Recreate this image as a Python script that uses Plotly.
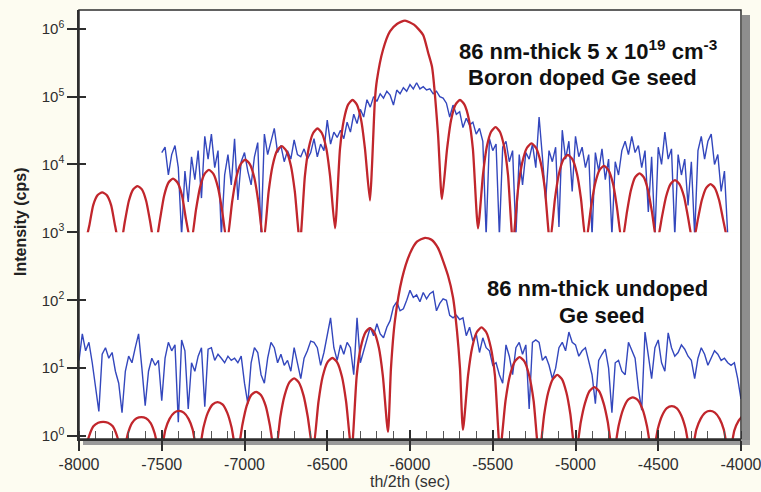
import numpy as np
import plotly.graph_objects as go

# ---------------- data ----------------
x_tick_vals = [-8000, -7500, -7000, -6500, -6000, -5500, -5000, -4500, -4000]
x_tick_text = ["-8000", "-7500", "-7000", "-6500", "-6000", "-5500", "-5000", "-4500", "-4000"]
y_tick_vals_low = [1, 10, 100]
y_tick_text_low = ["10<sup>0</sup>", "10<sup>1</sup>", "10<sup>2</sup>"]
y_tick_vals_high = [1e3, 1e4, 1e5, 1e6]
y_tick_text_high = ["10<sup>3</sup>", "10<sup>4</sup>", "10<sup>5</sup>", "10<sup>6</sup>"]

scan_step = 20  # sec between measured points

# 86 nm-thick 5e19 cm-3 boron doped Ge seed: measured (blue), scan starts at -7500
doped_meas_start = -7500
doped_meas = [
    1.5e4, 1.8e4, 7e3, 1.4e4, 1.9e4, 9e3, 9e2, 8e3, 2.8e3, 1.3e4, 6e3, 1.6e4,
    3.2e3, 2.6e4, 1.2e4, 2.8e4, 9e3, 1.6e4, 9e2, 7e3, 1.4e4, 5e3, 2.4e4,
    3e3, 1.1e4, 1.5e4, 8e3, 5e3, 1.3e4, 2.1e4, 9e2, 2.8e4,
    1.4e4, 2.2e4, 3.4e4, 1.5e4, 1.9e4, 1.1e4, 1.6e4, 1.2e4, 2.3e4, 1.4e4,
    1.3e4, 1.7e4, 1.2e4, 1.5e4, 2.4e4, 1.3e4, 2.0e4, 1.6e4, 4.5e4, 2.0e4, 3.0e4,
    2.5e4, 3.2e4, 2.4e4, 4.2e4, 3.0e4, 5.5e4, 4.0e4, 6.5e4, 5.0e4, 9.0e4,
    7.0e4, 1.0e5, 8.5e4, 1.1e5, 9.5e4, 1.2e5, 1.05e5, 7.5e4, 1.25e5, 1.1e5, 1.35e5,
    1.2e5, 1.5e5, 1.3e5, 1.6e5, 1.3e5, 1.4e5, 1.25e5, 1.3e5, 1.1e5, 1.2e5, 1.0e5, 9.5e4,
    8.0e4, 5.0e4, 7.5e4, 5.5e4, 6.0e4, 3.5e4, 4.8e4, 3.8e4, 4.2e4, 2.8e4, 3.4e4,
    2.2e4, 9e2, 2.4e4, 1.6e4, 2.0e4, 9e2,
    1.8e4, 2.2e4, 1.1e4, 1.6e4, 9e2, 1.4e4, 5e3, 1.5e4, 1.2e4, 2.0e4, 9e3, 5.0e4,
    1.3e4, 3e3, 1.6e4, 1.1e4, 1.8e4, 1.2e3, 3.2e4, 1.2e4, 2.2e4, 4e3, 2.6e4, 1.3e4,
    1.8e4, 9e3, 1.4e4, 9e2, 1.5e4, 8e3, 1.7e4, 6e3, 1.2e4, 9e2, 1.1e4, 7e3,
    1.6e4, 2.2e4, 1.4e4, 2.6e4, 1.5e4, 1.9e4, 9e3, 1.6e4, 2e3, 1.3e4, 9e2, 1.8e4,
    1.0e4, 3.0e4, 1.2e4, 1.7e4, 9e2, 1.4e4, 7e3, 1.2e4, 2.5e3, 1.1e4, 9e2, 1.6e4,
    2.6e4, 1.2e4, 2.2e4, 2.8e4, 1.0e4, 1.4e4, 4e3, 8e3, 9e2,
]

# doped: simulated (red)
doped_sim_x = [
    -7968, -7938, -7914, -7887, -7860, -7833, -7806, -7782,
    -7752, -7722, -7699, -7673, -7646, -7620, -7594, -7571,
    -7541, -7510, -7486, -7459, -7432, -7405, -7377, -7354,
    -7323, -7293, -7269, -7242, -7215, -7187, -7160, -7136,
    -7106, -7075, -7051, -7023, -6996, -6968, -6940, -6916,
    -6885, -6854, -6830, -6803, -6775, -6748, -6720, -6696,
    -6665, -6635, -6612, -6585, -6559, -6533, -6506, -6483,
    -6453, -6423, -6400, -6374, -6347, -6321, -6295, -6272,
    -6242, -6230, -6212, -6200, -6163, -6121, -6079, -6030, -5976, -5921, -5891, -5867, -5831,
    -5807, -5776, -5752, -5725, -5698, -5671, -5643, -5620,
    -5589, -5559, -5536, -5510, -5483, -5457, -5431, -5408,
    -5378, -5347, -5322, -5294, -5266, -5238, -5210, -5185,
    -5154, -5124, -5100, -5073, -5046, -5018, -4991, -4967,
    -4937, -4906, -4882, -4855, -4828, -4801, -4773, -4750,
    -4719, -4689, -4666, -4640, -4613, -4587, -4561, -4538,
    -4508, -4477, -4453, -4426, -4399, -4372, -4344, -4321,
    -4290, -4260, -4237, -4211, -4184, -4158, -4132, -4109, -4079,
]
doped_sim_y = [
    600, 1250, 2520, 3540, 3890, 3540, 2520, 1250,
    600, 1480, 2900, 4290, 4790, 4290, 2900, 1480,
    600, 1580, 3440, 5430, 6170, 5430, 3440, 1580,
    700, 2160, 4560, 7220, 8320, 7220, 4560, 2160,
    700, 2780, 6280, 10150, 11750, 10150, 6280, 2780,
    700, 4020, 9700, 16000, 18600, 16000, 9700, 4020,
    700, 6790, 17350, 29100, 33900, 29100, 17350, 6790,
    1150, 17000, 45000, 76200, 89100, 76200, 45000, 17000,
    2950, 9100, 89000, 174000, 490000, 912000, 1175000, 1318000, 1148000, 813000, 450000, 275000, 28800,
    3090, 17000, 45000, 76200, 89100, 76200, 45000, 17000,
    1150, 7100, 18200, 30400, 35500, 30400, 18200, 7100,
    700, 4350, 10600, 17500, 20400, 17500, 10600, 4350,
    700, 3150, 7300, 11900, 13800, 11900, 7300, 3150,
    700, 2380, 5180, 8270, 9550, 8270, 5180, 2380,
    700, 2000, 4100, 6450, 7410, 6450, 4100, 2000,
    700, 1720, 3350, 5150, 5890, 5150, 3350, 1720,
    700, 1580, 2970, 4500, 5130, 4500, 2970, 1580, 700,
]

# 86 nm-thick undoped Ge seed: measured (blue), scan starts at -8000
undoped_meas_start = -8000
undoped_meas = [
    13, 32, 18, 24, 12, 5, 2.3, 16, 20, 14, 17, 9, 6, 2.2, 9, 15, 12, 20, 32, 10,
    2.8, 9, 14, 11, 13, 3.3, 14, 24, 18, 22, 1.6, 26, 18, 2.5, 12, 9, 15, 20, 2.7, 19,
    20, 13, 16, 14, 12, 15, 13, 14, 12, 15, 6, 3, 12, 20, 17, 8, 6, 14, 24, 20,
    12, 16, 11, 13, 9, 20,
    12, 7, 14, 18, 25, 24, 20, 11, 17, 30, 55, 20, 13, 22, 16, 24, 20, 8, 55, 12,
    18, 26, 40, 30, 45, 32, 28, 40, 50, 80, 95, 70, 75, 100, 140, 110, 120, 95, 130, 105,
    125, 135, 70, 90, 105, 100, 60, 55, 60, 52, 55, 30, 40, 25, 32, 17, 28, 20, 18, 11,
    12, 8, 6, 22, 15,
    8, 20, 24, 16, 22, 2.5, 24, 26, 24, 13, 15, 11, 7, 10, 20, 24, 18, 34, 24, 22,
    15, 18, 20, 12, 8, 3, 13, 16, 19, 10, 2.2, 12, 13, 9, 8, 24, 18, 14, 5, 2.4,
    34, 14, 7, 20, 26, 12, 9, 33, 20, 15, 17, 22, 19, 15, 13, 7, 14, 20, 16, 11,
    14, 18, 16, 13, 14, 12, 11, 12, 7, 3.5,
]

# undoped: simulated (red)
undoped_sim_x = [
    -7972, -7939, -7913, -7884, -7854, -7825, -7796, -7770,
    -7737, -7705, -7680, -7652, -7623, -7595, -7567, -7542,
    -7510, -7478, -7453, -7424, -7395, -7367, -7338, -7313,
    -7281, -7248, -7222, -7192, -7163, -7133, -7104, -7078,
    -7045, -7013, -6987, -6959, -6930, -6901, -6872, -6847,
    -6815, -6783, -6758, -6729, -6700, -6672, -6643, -6618,
    -6586, -6553, -6528, -6499, -6469, -6440, -6411, -6386,
    -6353, -6322, -6298, -6270, -6243, -6215, -6188, -6164,
    -6133, -6115, -6091, -6048, -6000, -5958, -5909, -5870, -5831, -5770, -5740, -5716, -5698,
    -5680, -5649, -5624, -5596, -5568, -5540, -5512, -5487,
    -5456, -5423, -5397, -5367, -5338, -5308, -5279, -5253,
    -5220, -5189, -5165, -5137, -5110, -5082, -5055, -5031,
    -5000, -4968, -4943, -4915, -4886, -4858, -4830, -4805,
    -4773, -4740, -4713, -4684, -4654, -4624, -4594, -4568,
    -4535, -4502, -4477, -4448, -4418, -4389, -4360, -4335,
    -4302, -4270, -4244, -4216, -4187, -4158, -4129, -4104,
    -4072, -4040, -4014, -3986,
]
undoped_sim_y = [
    0.5, 1.0, 1.39, 1.57, 1.62, 1.57, 1.39, 1.0,
    0.5, 1.08, 1.55, 1.82, 1.9, 1.82, 1.55, 1.08,
    0.5, 1.24, 1.79, 2.21, 2.34, 2.21, 1.79, 1.24,
    0.5, 1.33, 2.19, 2.92, 3.16, 2.92, 2.19, 1.33,
    0.5, 1.45, 2.77, 4.02, 4.47, 4.02, 2.77, 1.45,
    0.5, 1.94, 3.94, 6.16, 7.08, 6.16, 3.94, 1.94,
    0.6, 3.2, 7.45, 12.2, 14.1, 12.2, 7.45, 3.2,
    0.6, 7.7, 19.9, 33.3, 38.9, 33.3, 19.9, 7.7,
    1.15, 10, 50, 210, 490, 730, 832, 780, 590, 230, 110, 35, 10,
    1.23, 7.9, 20.3, 34.1, 39.8, 34.1, 20.3, 7.9,
    0.6, 3.28, 7.65, 12.5, 14.5, 12.5, 7.65, 3.28,
    0.5, 2.09, 4.37, 6.9, 7.94, 6.9, 4.37, 2.09,
    0.5, 1.61, 3.03, 4.6, 5.25, 4.6, 3.03, 1.61,
    0.5, 1.39, 2.44, 3.39, 3.72, 3.39, 2.44, 1.39,
    0.5, 1.29, 1.99, 2.57, 2.75, 2.57, 1.99, 1.29,
    0.5, 1.24, 1.79, 2.21, 2.34, 2.21, 1.79, 1.24,
    0.5, 1.21, 1.68, 2.03,
]

label_doped = "86 nm-thick 5 x 10<sup>19</sup> cm<sup>-3</sup>"
label_doped_2 = "Boron doped Ge seed"
label_undoped = "86 nm-thick undoped"
label_undoped_2 = "Ge seed"

# ---------------- figure ----------------
BLUE = "#3347bd"
RED = "#c1262c"
INK = "#2e2e2e"
FONT = "Liberation Sans, Arial, sans-serif"

doped_x = doped_meas_start + scan_step * np.arange(len(doped_meas))
undoped_x = undoped_meas_start + scan_step * np.arange(len(undoped_meas))

low_range = [-0.044, 3.0]
high_range = [2.9999, 6.276]
split = (low_range[1] - low_range[0]) / (high_range[1] - low_range[0])

red_line = dict(color=RED, width=2.3, shape="spline", smoothing=0.6)
blue_line = dict(color=BLUE, width=1.4)

fig = go.Figure()
fig.add_trace(go.Scatter(x=undoped_x, y=undoped_meas, xaxis="x", yaxis="y", mode="lines", line=blue_line))
fig.add_trace(go.Scatter(x=undoped_sim_x, y=undoped_sim_y, xaxis="x", yaxis="y", mode="lines", line=red_line))
fig.add_trace(go.Scatter(x=doped_x, y=doped_meas, xaxis="x", yaxis="y2", mode="lines", line=blue_line))
fig.add_trace(go.Scatter(x=doped_sim_x, y=doped_sim_y, xaxis="x", yaxis="y2", mode="lines", line=red_line))
# empty traces that carry the inner tick-mark axes
fig.add_trace(go.Scatter(x=[None], y=[None], xaxis="x2", yaxis="y3", mode="lines", hoverinfo="skip"))
fig.add_trace(go.Scatter(x=[None], y=[None], xaxis="x2", yaxis="y4", mode="lines", hoverinfo="skip"))

tickfont = dict(family=FONT, size=15, color=INK)
common_y = dict(type="log", showgrid=False, zeroline=False, showline=True, linecolor=INK,
                linewidth=1.5, ticks="outside", ticklen=10, tickwidth=1.5, tickcolor=INK,
                tickfont=tickfont, anchor="x", automargin=False)
x_range = [-8000.01, -3999.99]

fig.update_layout(
    width=761, height=492,
    margin=dict(l=79, r=20, t=10, b=53, autoexpand=False),
    paper_bgcolor="#fdfcf1",
    plot_bgcolor="white",
    showlegend=False,
    xaxis=dict(range=x_range, tickvals=x_tick_vals, ticktext=x_tick_text,
               ticks="outside", ticklen=10, tickwidth=1.5, tickcolor=INK,
               showgrid=False, zeroline=False, showline=True, linecolor=INK, linewidth=2,
               anchor="y", tickfont=dict(family=FONT, size=16, color=INK),
               ticklabeloverflow="allow", automargin=False,
               minor=dict(ticks="inside", dtick=100, ticklen=8, tickwidth=1, tickcolor="#555")),
    xaxis2=dict(range=x_range, overlaying="x", anchor="y", tickvals=x_tick_vals,
                ticks="inside", ticklen=9, tickwidth=1.5, tickcolor=INK, showticklabels=False,
                showgrid=False, zeroline=False, showline=False, automargin=False),
    yaxis=dict(domain=[0, split], range=low_range, tickvals=y_tick_vals_low,
               ticktext=y_tick_text_low, **common_y),
    yaxis2=dict(domain=[split, 1], range=high_range, tickvals=y_tick_vals_high,
                ticktext=y_tick_text_high, **common_y),
    yaxis3=dict(type="log", overlaying="y", anchor="x2", range=low_range, tickvals=y_tick_vals_low,
                ticks="inside", ticklen=7, tickwidth=1.5, tickcolor=INK, showticklabels=False,
                showgrid=False, zeroline=False, showline=False, automargin=False),
    yaxis4=dict(type="log", overlaying="y2", anchor="x2", range=high_range, tickvals=y_tick_vals_high,
                ticks="inside", ticklen=7, tickwidth=1.5, tickcolor=INK, showticklabels=False,
                showgrid=False, zeroline=False, showline=False, automargin=False),
)

pw, ph = 662.0, 429.0
fig.add_shape(type="rect", xref="paper", yref="paper", x0=1 + 1 / pw, x1=1 + 9 / pw,
              y0=-6 / ph, y1=1 - 5 / ph, fillcolor="#8e8e8e", line=dict(width=0), layer="below")
fig.add_shape(type="rect", xref="paper", yref="paper", x0=4 / pw, x1=1 + 9 / pw,
              y0=-6 / ph, y1=-1 / ph, fillcolor="#9a9a9a", line=dict(width=0), layer="below")
fig.add_shape(type="rect", xref="paper", yref="paper", x0=0, x1=1, y0=0, y1=1,
              line=dict(color=INK, width=1.5), fillcolor="rgba(0,0,0,0)", layer="above")

ann_font = dict(family=FONT, size=22, color="#111")
fig.add_annotation(x=(588 - 79) / pw, y=(439 - 50) / ph, xref="paper", yref="paper",
                   text="<b>" + label_doped + "</b>", showarrow=False, font=ann_font,
                   xanchor="center", yanchor="middle")
fig.add_annotation(x=(582 - 79) / pw, y=(439 - 77) / ph, xref="paper", yref="paper",
                   text="<b>" + label_doped_2 + "</b>", showarrow=False, font=ann_font,
                   xanchor="center", yanchor="middle")
fig.add_annotation(x=(597 - 79) / pw, y=(439 - 288) / ph, xref="paper", yref="paper",
                   text="<b>" + label_undoped + "</b>", showarrow=False, font=ann_font,
                   xanchor="center", yanchor="middle")
fig.add_annotation(x=(602 - 79) / pw, y=(439 - 315) / ph, xref="paper", yref="paper",
                   text="<b>" + label_undoped_2 + "</b>", showarrow=False, font=ann_font,
                   xanchor="center", yanchor="middle")
fig.add_annotation(x=(20 - 79) / pw, y=(439 - 222) / ph, xref="paper", yref="paper",
                   text="<b>Intensity (cps)</b>", textangle=-90, showarrow=False,
                   font=dict(family=FONT, size=16, color="#222"), xanchor="center", yanchor="middle")
fig.add_annotation(x=0.5, y=(439 - 481) / ph, xref="paper", yref="paper",
                   text="th/2th (sec)", showarrow=False,
                   font=dict(family=FONT, size=16, color="#333"), xanchor="center", yanchor="middle")

fig.write_html("out.html")
